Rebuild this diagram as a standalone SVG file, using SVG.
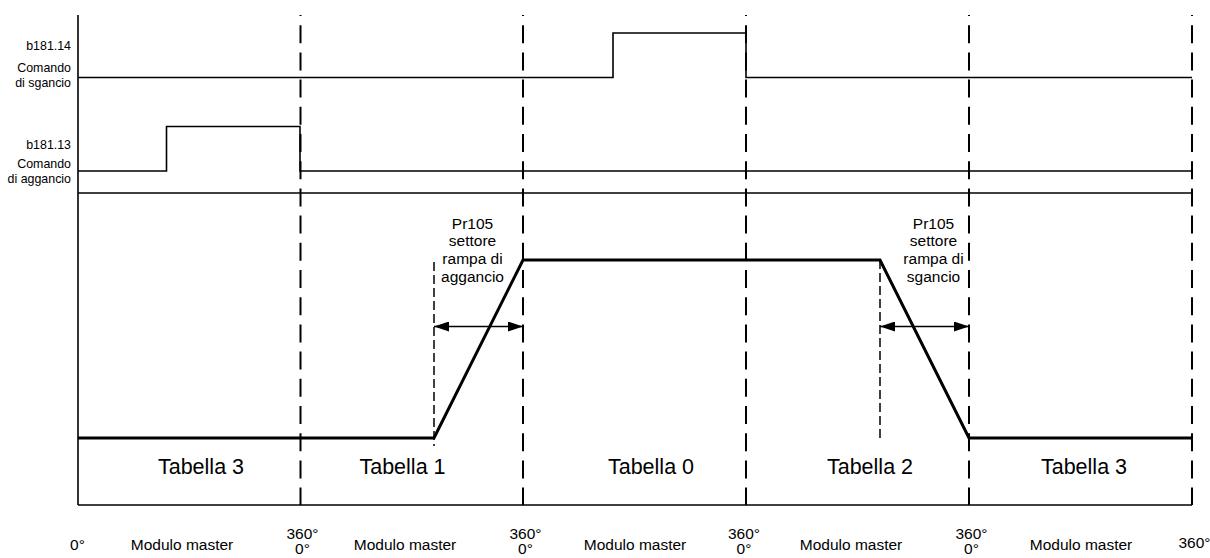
<svg xmlns="http://www.w3.org/2000/svg" width="1210" height="558" viewBox="0 0 1210 558">
<defs>
<marker id="arr" viewBox="0 0 15 10" refX="15" refY="5" markerWidth="15" markerHeight="10" markerUnits="userSpaceOnUse" orient="auto-start-reverse">
<path d="M0,0 L15,5 L0,10 Z" fill="#000"/>
</marker>
</defs>
<style>
.thin{fill:none;stroke:#000;stroke-width:1.6}
.thick{fill:none;stroke:#000;stroke-width:3;stroke-linejoin:miter}
.sep{fill:none;stroke:#000;stroke-width:2;stroke-dasharray:18 9.2;stroke-dashoffset:17}
.sdash{fill:none;stroke:#000;stroke-width:1.5;stroke-dasharray:9 4}
.arrow{fill:none;stroke:#000;stroke-width:1.5}
text{font-family:"Liberation Sans",Arial,sans-serif;fill:#000}
.lbl{font-size:12.4px;text-anchor:end}
.ann{font-size:15.5px;text-anchor:middle}
.tab{font-size:21.5px;text-anchor:middle}
.deg{font-size:15.5px;text-anchor:middle}
</style>
<rect width="1210" height="558" fill="#fff"/>

<g id="frame">
<line class="thin" x1="78" y1="15" x2="78" y2="505"/>
<line class="thin" x1="78" y1="193" x2="1192" y2="193"/>
<line class="thin" x1="78" y1="505" x2="1192" y2="505"/>
</g>

<g id="signal-b181-14">
<polyline class="thin" points="78,77.5 613,77.5 613,33 746,33 746,77.5 1192,77.5"/>
<text class="lbl" x="71" y="50">b181.14</text>
<text class="lbl" x="71" y="72">Comando</text>
<text class="lbl" x="71" y="86.5">di sgancio</text>
</g>

<g id="signal-b181-13">
<polyline class="thin" points="78,171 166.5,171 166.5,126.5 300,126.5 300,171 1192,171"/>
<text class="lbl" x="71" y="149">b181.13</text>
<text class="lbl" x="71" y="167.5">Comando</text>
<text class="lbl" x="71" y="182.5">di aggancio</text>
</g>

<g id="cycle-separators">
<line class="sep" x1="300.5" y1="15" x2="300.5" y2="505"/>
<line class="sep" x1="523" y1="15" x2="523" y2="505"/>
<line class="sep" x1="746" y1="15" x2="746" y2="505"/>
<line class="sep" x1="969" y1="15" x2="969" y2="505"/>
<line class="sep" x1="1192" y1="15" x2="1192" y2="505"/>
</g>

<g id="profile">
<polyline class="thick" points="78,438 434,438 523,260 880,260 969,438 1192,438"/>
</g>

<g id="connectors">
<line class="sdash" x1="434" y1="262" x2="434" y2="446"/>
<line class="sdash" x1="880" y1="260" x2="880" y2="440"/>
<line class="arrow" x1="434" y1="326.5" x2="523" y2="326.5" marker-start="url(#arr)" marker-end="url(#arr)"/>
<line class="arrow" x1="880" y1="326.5" x2="969" y2="326.5" marker-start="url(#arr)" marker-end="url(#arr)"/>
</g>

<g id="label-aggancio">
<text class="ann" x="472.5" y="228.5">Pr105</text>
<text class="ann" x="472.5" y="246.3">settore</text>
<text class="ann" x="472.5" y="264">rampa di</text>
<text class="ann" x="472.5" y="281.8">aggancio</text>
</g>

<g id="label-sgancio">
<text class="ann" x="933.5" y="228.5">Pr105</text>
<text class="ann" x="933.5" y="246.3">settore</text>
<text class="ann" x="933.5" y="264">rampa di</text>
<text class="ann" x="933.5" y="281.8">sgancio</text>
</g>

<g id="tables">
<text class="tab" x="201" y="474">Tabella 3</text>
<text class="tab" x="402.5" y="474">Tabella 1</text>
<text class="tab" x="651" y="474">Tabella 0</text>
<text class="tab" x="870" y="474">Tabella 2</text>
<text class="tab" x="1084" y="474">Tabella 3</text>
</g>

<g id="degrees">
<text class="deg" x="77.5" y="550">0°</text>
<text class="deg" x="182" y="550">Modulo master</text>
<text class="deg" x="302.5" y="539">360°</text>
<text class="deg" x="302.5" y="554">0°</text>
<text class="deg" x="405" y="550">Modulo master</text>
<text class="deg" x="525.5" y="539">360°</text>
<text class="deg" x="525.5" y="554">0°</text>
<text class="deg" x="635" y="550">Modulo master</text>
<text class="deg" x="744" y="539">360°</text>
<text class="deg" x="744" y="554">0°</text>
<text class="deg" x="851" y="550">Modulo master</text>
<text class="deg" x="971.5" y="539">360°</text>
<text class="deg" x="971.5" y="554">0°</text>
<text class="deg" x="1081" y="550">Modulo master</text>
<text class="deg" x="1194.5" y="547.5">360°</text>
</g>
</svg>
